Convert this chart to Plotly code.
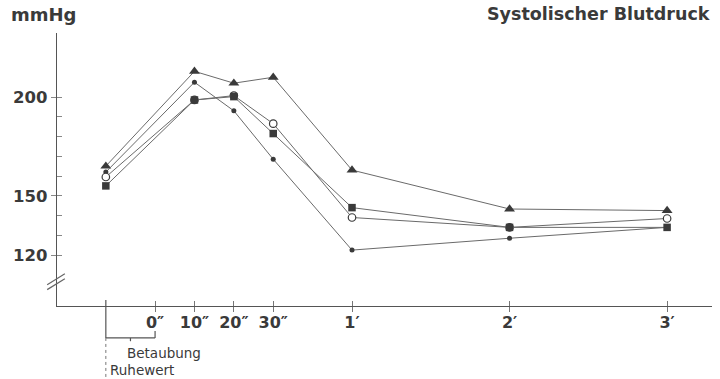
import plotly.graph_objects as go

# ---- data ----
categories = ["Ruhewert", "10″", "20″", "30″", "1′", "2′", "3′"]
x_pos = [-1.25, 1, 2, 3, 5, 9, 13]          # position of each category on the time scale
tick_pos = [0, 1, 2, 3, 5, 9, 13]
tick_text = ["0″", "10″", "20″", "30″", "1′", "2′", "3′"]

triangle_vals = [165, 213, 207, 210, 163, 143.3, 142.5]
dot_vals      = [162, 207.5, 193, 168.5, 122.5, 128.5, 134]
circle_vals   = [159.5, 198.5, 200.7, 186.5, 139, 134, 138.5]
square_vals   = [155, 198.5, 200.2, 181.5, 144, 134, 134]

y_tickvals = [120, 130, 140, 150, 160, 170, 180, 190, 200]
y_ticktext = ["120", "", "", "150", "", "", "", "", "200"]

INK = "#3a3a3a"
LINE = "#6a6a6a"
FONT = "DejaVu Sans"

fig = go.Figure()

series = [
    ("▲", triangle_vals, dict(symbol="triangle-up", size=9.5, color=INK)),
    ("•", dot_vals, dict(symbol="circle", size=5, color=INK)),
    ("○", circle_vals, dict(symbol="circle", size=7.5, color="white", line=dict(color=INK, width=1.2))),
    ("■", square_vals, dict(symbol="square", size=7.5, color=INK)),
]
for name, vals, mk in series:
    fig.add_trace(go.Scatter(
        x=x_pos, y=vals, mode="lines+markers", name=name,
        line=dict(color=LINE, width=1), marker=mk,
        showlegend=False, hoverinfo="skip",
    ))

x_range = [-2.49, 14.14]
y_range = [94.2, 232.4]

fig.update_layout(
    width=720, height=379,
    margin=dict(l=57, r=8, t=33, b=73),
    paper_bgcolor="white", plot_bgcolor="white",
    font=dict(family=FONT, color=INK),
    xaxis=dict(
        range=x_range, showgrid=False, zeroline=False,
        showline=True, linecolor="#555", linewidth=1.3,
        tickmode="array", tickvals=tick_pos, ticktext=tick_text,
        ticks="outside", ticklen=5, tickcolor="#777", tickwidth=1,
        ticklabelstandoff=-3,
        tickfont=dict(family=FONT, size=16, color=INK, weight="bold"),
        minor=dict(tickmode="array", tickvals=tick_pos, ticks="inside",
                   ticklen=5, tickcolor="#777", tickwidth=1),
    ),
    yaxis=dict(
        range=y_range, showgrid=False, zeroline=False,
        showline=True, linecolor="#555", linewidth=1.3,
        tickmode="array", tickvals=y_tickvals, ticktext=y_ticktext,
        ticks="outside", ticklen=5, tickcolor="#888", tickwidth=1,
        tickfont=dict(family=FONT, size=16.5, color=INK, weight="bold"),
        minor=dict(tickmode="array", tickvals=y_tickvals, ticks="inside",
                   ticklen=5, tickcolor="#888", tickwidth=1),
    ),
)

# axis break mark "//" on the y axis
for dy in (0.0, 0.018):
    fig.add_shape(type="line", xref="paper", yref="paper",
                  x0=-0.015, y0=0.06 + dy, x1=0.012, y1=0.10 + dy,
                  line=dict(color="#666", width=1.2))

# bracket "Betaubung" between Ruhewert and 0″
yb = -0.117
fig.add_shape(type="line", xref="x", yref="paper", x0=x_pos[0], x1=x_pos[0],
              y0=0.022, y1=yb, line=dict(color="#555", width=1.2))
fig.add_shape(type="line", xref="x", yref="paper", x0=x_pos[0], x1=tick_pos[0],
              y0=yb, y1=yb, line=dict(color="#555", width=1.2))
fig.add_shape(type="line", xref="x", yref="paper", x0=tick_pos[0], x1=tick_pos[0],
              y0=yb, y1=yb + 0.025, line=dict(color="#555", width=1.2))
mid = (x_pos[0] + tick_pos[0]) / 2
fig.add_shape(type="line", xref="x", yref="paper", x0=mid, x1=mid,
              y0=yb, y1=yb - 0.012, line=dict(color="#555", width=1.2))
fig.add_shape(type="line", xref="x", yref="paper", x0=x_pos[0], x1=x_pos[0],
              y0=yb, y1=-0.265, line=dict(color="#777", width=1, dash="dot"))

fig.add_annotation(text="Betaubung", xref="x", yref="paper", x=-0.76, y=-0.172,
                   xanchor="left", yanchor="middle", showarrow=False,
                   font=dict(family=FONT, size=13.5, color=INK))
fig.add_annotation(text="Ruhewert", xref="x", yref="paper", x=x_pos[0] + 0.06, y=-0.236,
                   xanchor="left", yanchor="middle", showarrow=False,
                   font=dict(family=FONT, size=13.5, color=INK))

# titles
fig.add_annotation(text="mmHg", xref="paper", yref="paper", x=-0.073, y=1.068,
                   xanchor="left", yanchor="middle", showarrow=False,
                   font=dict(family=FONT, size=18, color=INK, weight="bold"))
fig.add_annotation(text="Systolischer Blutdruck", xref="paper", yref="paper", x=1.0, y=1.068,
                   xanchor="right", yanchor="middle", showarrow=False,
                   font=dict(family=FONT, size=17.5, color=INK, weight="bold"))

fig.write_html("out.html", config={"displayModeBar": False},
               post_script="document.body.style.margin='0';")
